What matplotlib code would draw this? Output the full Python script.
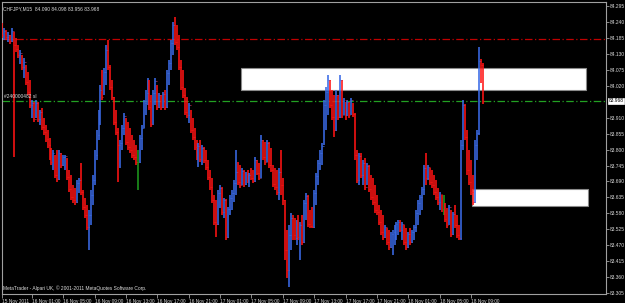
import numpy as np
import matplotlib
matplotlib.use('Agg')
import matplotlib.pyplot as plt
from matplotlib.patches import Rectangle

# CHFJPY M15, one bar per 15 minutes, 15 Nov 21:15 -> 18 Nov 10:30
symbol = 'CHFJPY,M15'
first_open = 84.230

highs = [
    84.237, 84.219, 84.213, 84.206, 84.195, 84.219, 84.206, 84.185, 84.161, 84.144,
    84.126, 84.116, 84.092, 84.068, 84.040, 83.971, 83.964, 83.971, 83.964, 83.937,
    83.944, 83.909, 83.885, 83.868, 83.840, 83.806, 83.799, 83.782, 83.799, 83.799,
    83.788, 83.782, 83.782, 83.771, 83.730, 83.713, 83.678, 83.668, 83.695, 83.702,
    83.754, 83.661, 83.633, 83.609, 83.592, 83.661, 83.713, 83.799, 83.868, 83.937,
    84.023, 84.075, 84.082, 84.161, 84.178, 84.092, 84.040, 83.982, 83.937, 83.875,
    83.833, 83.885, 83.926, 83.909, 83.895, 83.875, 83.851, 83.833, 83.816, 83.799,
    83.851, 83.885, 83.971, 84.006, 84.047, 84.040, 83.988, 84.006, 84.047, 84.023,
    83.995, 83.988, 83.999, 84.006, 84.075, 84.109, 84.178, 84.240, 84.257, 84.230,
    84.195, 84.109, 84.075, 84.013, 83.982, 83.961, 83.937, 83.909, 83.875, 83.833,
    83.823, 83.833, 83.816, 83.809, 83.799, 83.764, 83.730, 83.702, 83.644, 83.626,
    83.661, 83.678, 83.671, 83.633, 83.630, 83.602, 83.644, 83.661, 83.695, 83.799,
    83.757, 83.747, 83.737, 83.730, 83.723, 83.730, 83.719, 83.737, 83.730, 83.775,
    83.764, 83.754, 83.851, 83.833, 83.826, 83.833, 83.826, 83.806, 83.747, 83.737,
    83.730, 83.737, 83.799, 83.702, 83.626, 83.523, 83.540, 83.582, 83.575, 83.564,
    83.557, 83.575, 83.551, 83.575, 83.626, 83.651, 83.644, 83.592, 83.602, 83.661,
    83.719, 83.764, 83.799, 83.823, 83.971, 84.016, 84.057, 84.040, 84.006, 83.988,
    84.006, 83.988, 84.057, 84.040, 83.978, 83.964, 83.971, 83.964, 83.978, 83.961,
    83.926, 83.799, 83.788, 83.788, 83.764, 83.771, 83.754, 83.747, 83.713, 83.702,
    83.678, 83.644, 83.609, 83.592, 83.575, 83.540, 83.530, 83.523, 83.516, 83.523,
    83.540, 83.551, 83.557, 83.557, 83.551, 83.540, 83.530, 83.516, 83.530, 83.523,
    83.540, 83.592, 83.626, 83.644, 83.671, 83.747, 83.788, 83.747, 83.737, 83.730,
    83.713, 83.695, 83.668, 83.654, 83.644, 83.644, 83.616, 83.599, 83.609, 83.592,
    83.585, 83.609, 83.575, 83.540, 83.833, 83.971, 83.957, 83.868, 83.799, 83.764,
    83.713, 83.833, 83.868, 84.154, 84.112, 84.098,
]

lows = [
    84.185, 84.178, 84.178, 84.171, 84.164, 84.171, 83.775, 84.137, 84.116, 84.095,
    84.075, 84.047, 84.023, 83.988, 83.944, 83.909, 83.895, 83.909, 83.895, 83.885,
    83.868, 83.851, 83.826, 83.806, 83.764, 83.747, 83.730, 83.702, 83.688, 83.695,
    83.737, 83.744, 83.730, 83.695, 83.654, 83.626, 83.616, 83.609, 83.616, 83.651,
    83.644, 83.592, 83.564, 83.523, 83.454, 83.540, 83.609, 83.678, 83.764, 83.833,
    83.885, 83.971, 83.988, 84.023, 84.075, 84.006, 83.971, 83.885, 83.851, 83.688,
    83.737, 83.799, 83.851, 83.816, 83.799, 83.788, 83.771, 83.764, 83.747, 83.661,
    83.754, 83.799, 83.875, 83.919, 83.954, 83.937, 83.878, 83.885, 83.954, 83.937,
    83.944, 83.937, 83.944, 83.937, 83.944, 84.023, 84.075, 84.126, 84.161, 84.144,
    84.075, 84.006, 83.978, 83.919, 83.909, 83.892, 83.857, 83.833, 83.799, 83.764,
    83.740, 83.757, 83.747, 83.754, 83.730, 83.695, 83.661, 83.616, 83.540, 83.499,
    83.540, 83.599, 83.575, 83.564, 83.488, 83.495, 83.575, 83.592, 83.619, 83.644,
    83.678, 83.668, 83.678, 83.671, 83.678, 83.685, 83.671, 83.695, 83.685, 83.688,
    83.713, 83.695, 83.702, 83.764, 83.747, 83.757, 83.737, 83.723, 83.671, 83.661,
    83.644, 83.626, 83.644, 83.609, 83.420, 83.357, 83.326, 83.454, 83.488, 83.488,
    83.471, 83.488, 83.420, 83.471, 83.478, 83.557, 83.533, 83.530, 83.530, 83.530,
    83.609, 83.678, 83.730, 83.747, 83.816, 83.868, 83.919, 83.944, 83.902, 83.844,
    83.864, 83.902, 83.909, 83.909, 83.919, 83.902, 83.916, 83.909, 83.919, 83.913,
    83.764, 83.685, 83.678, 83.702, 83.678, 83.661, 83.678, 83.654, 83.626, 83.609,
    83.582, 83.575, 83.540, 83.506, 83.488, 83.495, 83.471, 83.454, 83.461, 83.437,
    83.471, 83.488, 83.506, 83.516, 83.488, 83.471, 83.454, 83.461, 83.471, 83.478,
    83.488, 83.516, 83.540, 83.575, 83.592, 83.644, 83.678, 83.695, 83.678, 83.668,
    83.644, 83.626, 83.609, 83.592, 83.585, 83.575, 83.551, 83.530, 83.540, 83.499,
    83.506, 83.530, 83.495, 83.488, 83.488, 83.799, 83.833, 83.713, 83.678, 83.644,
    83.609, 83.616, 83.764, 83.851, 84.030, 83.956,
]

closes = [
    84.195, 84.209, 84.188, 84.195, 84.174, 84.209, 84.161, 84.147, 84.126, 84.133,
    84.085, 84.102, 84.033, 83.999, 83.954, 83.961, 83.905, 83.961, 83.905, 83.930,
    83.878, 83.861, 83.836, 83.816, 83.775, 83.757, 83.788, 83.713, 83.698, 83.788,
    83.747, 83.775, 83.778, 83.706, 83.664, 83.637, 83.626, 83.619, 83.685, 83.695,
    83.654, 83.602, 83.575, 83.533, 83.575, 83.644, 83.695, 83.782, 83.851, 83.919,
    84.006, 83.982, 84.068, 84.144, 84.085, 84.016, 83.982, 83.895, 83.861, 83.816,
    83.823, 83.875, 83.916, 83.826, 83.809, 83.799, 83.782, 83.775, 83.757, 83.757,
    83.840, 83.875, 83.961, 83.995, 84.036, 83.947, 83.888, 83.995, 84.036, 83.947,
    83.988, 83.947, 83.992, 83.947, 84.064, 84.099, 84.167, 84.230, 84.171, 84.154,
    84.085, 84.016, 83.988, 83.930, 83.919, 83.954, 83.868, 83.844, 83.809, 83.775,
    83.812, 83.767, 83.806, 83.764, 83.740, 83.706, 83.671, 83.626, 83.551, 83.543,
    83.651, 83.668, 83.585, 83.626, 83.499, 83.595, 83.633, 83.651, 83.685, 83.723,
    83.688, 83.678, 83.726, 83.681, 83.716, 83.695, 83.713, 83.702, 83.692, 83.764,
    83.719, 83.702, 83.833, 83.775, 83.757, 83.823, 83.747, 83.730, 83.681, 83.671,
    83.654, 83.723, 83.678, 83.626, 83.454, 83.385, 83.506, 83.564, 83.506, 83.495,
    83.547, 83.499, 83.540, 83.481, 83.616, 83.640, 83.543, 83.536, 83.533, 83.651,
    83.709, 83.754, 83.788, 83.812, 83.954, 83.999, 84.040, 83.954, 83.913, 83.868,
    83.988, 83.913, 84.040, 83.919, 83.971, 83.913, 83.964, 83.919, 83.971, 83.923,
    83.782, 83.695, 83.778, 83.713, 83.754, 83.671, 83.744, 83.664, 83.637, 83.619,
    83.592, 83.585, 83.551, 83.516, 83.499, 83.533, 83.481, 83.464, 83.509, 83.516,
    83.533, 83.543, 83.551, 83.523, 83.543, 83.481, 83.464, 83.509, 83.481, 83.516,
    83.533, 83.582, 83.616, 83.637, 83.664, 83.737, 83.702, 83.740, 83.688, 83.678,
    83.654, 83.637, 83.619, 83.647, 83.595, 83.595, 83.561, 83.540, 83.602, 83.509,
    83.578, 83.540, 83.506, 83.495, 83.816, 83.954, 83.844, 83.730, 83.688, 83.654,
    83.619, 83.816, 83.857, 84.105, 84.090, 83.968,
]

time_labels = ['15 Nov 2011', '16 Nov 01:00', '16 Nov 05:00', '16 Nov 09:00', '16 Nov 13:00',
               '16 Nov 17:00', '16 Nov 21:00', '17 Nov 01:00', '17 Nov 05:00', '17 Nov 09:00',
               '17 Nov 13:00', '17 Nov 17:00', '17 Nov 21:00', '18 Nov 01:00', '18 Nov 05:00',
               '18 Nov 09:00']
label_bars = [0] + list(range(15, 240, 16))   # 16 bars = 4 hours

# objects on the chart: (from bar, to bar, low price, high price)
zones = [(121.5, 297.7, 84.006, 84.080),
         (239.5, 298.7, 83.605, 83.664)]
level_line = 84.181
order_price = 83.968
order_label = '#240000482 sl'

price_ticks = [84.295, 84.240, 84.185, 84.130, 84.075, 84.020, 83.910, 83.855, 83.800,
               83.745, 83.690, 83.635, 83.580, 83.525, 83.470, 83.415, 83.360, 83.305]

opens = [first_open] + closes[:-1]

# metatrader text is tiny and narrow
plt.rcParams['font.family'] = 'Liberation Sans'
fs = 3.5
txt_col = '#dcdcdc'
frame_col = '#a0a0a0'

fig = plt.figure(figsize=(6.25, 3.03), dpi=100, facecolor='black')
ax = fig.add_axes([2 / 625, 9 / 303, 604 / 625, 292 / 303])
ax.set_facecolor('black')

x = np.arange(len(closes))
o = np.array(opens)
c = np.array(closes)
cols = np.where(c > o, '#3a6ae6', np.where(c < o, '#ff1414', '#1e9a1e'))

# zones under the bars
for x0, x1, p0, p1 in zones:
    ax.add_patch(Rectangle((x0, p0), x1 - x0, p1 - p0, facecolor='white',
                           edgecolor='#8a8a8a', lw=0.8, zorder=1))

ax.axhline(level_line, color='#c00000', lw=0.9, ls=(0, (6, 2, 1, 2)), zorder=2)
ax.axhline(order_price, color='#22a022', lw=0.9, ls=(0, (6, 2, 1, 2)), zorder=2)

ax.vlines(x, lows, highs, colors=cols, lw=1.15, zorder=3)
ax.hlines(o, x - 0.45, x, colors=cols, lw=0.6, zorder=3)
ax.hlines(c, x, x + 0.45, colors=cols, lw=0.6, zorder=3)

ax.set_xlim(-0.25, 307.9)
ax.set_ylim(83.3019, 84.3088)

for s in ax.spines.values():
    s.set_color(frame_col)
    s.set_linewidth(0.8)

ax.yaxis.tick_right()
ax.set_yticks(price_ticks)
ax.set_yticklabels([f'{p:.3f}' for p in price_ticks])
ax.tick_params(axis='y', colors=frame_col, labelcolor=txt_col, labelsize=fs,
               length=2, width=0.6, pad=1)
ax.set_xticks(label_bars)
ax.set_xticklabels(time_labels, ha='left')
ax.tick_params(axis='x', colors=frame_col, labelcolor=txt_col, labelsize=3.4,
               length=3, width=0.6, pad=0.5)

# current price tag on the scale
ax.text(1.004, order_price, f'{closes[-1]:.3f}', transform=ax.get_yaxis_transform(),
        ha='left', va='center', fontsize=fs, color='black',
        bbox=dict(boxstyle='square,pad=0.15', fc='white', ec='white', lw=0.5))

ax.text(0.002, 0.985, f'{symbol}  {opens[-1]:.3f} {highs[-1]:.3f} {lows[-1]:.3f} {closes[-1]:.3f}',
        transform=ax.transAxes, ha='left', va='top', fontsize=fs, color=txt_col)
ax.text(1, order_price + 0.005, order_label, ha='left', va='bottom', fontsize=fs, color=txt_col)
ax.text(0.002, 0.01, 'MetaTrader - Alpari UK, \u00a9 2001-2011 MetaQuotes Software Corp.',
        transform=ax.transAxes, ha='left', va='bottom', fontsize=fs, color=txt_col)

fig.savefig('out.png', dpi=100, facecolor='black')
